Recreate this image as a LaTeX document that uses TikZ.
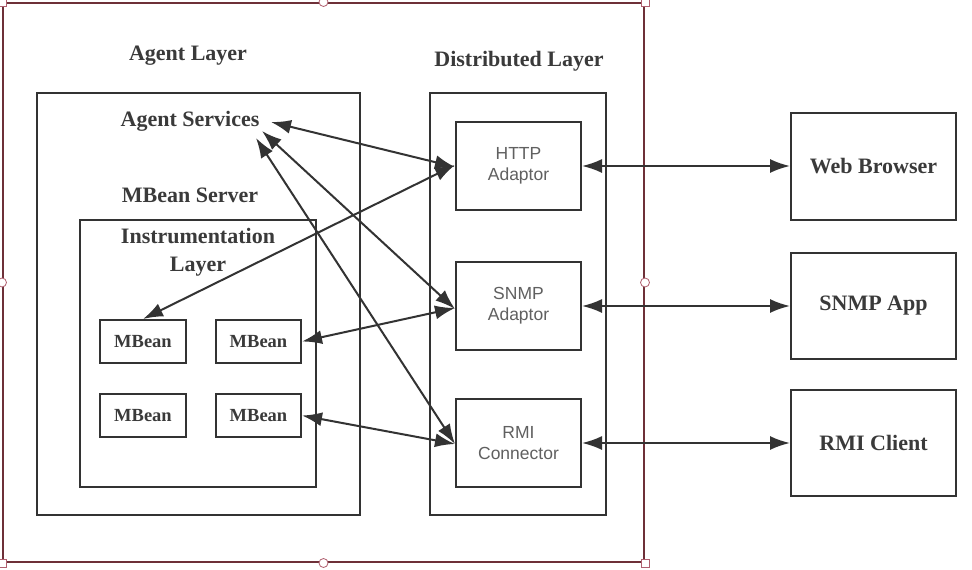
\documentclass[tikz,border=0pt]{standalone}
\usepackage{fontspec}
\setmainfont{Liberation Serif}
\newfontfamily\adsans{Liberation Sans}
\usetikzlibrary{arrows.meta}
\definecolor{ink}{HTML}{333333}
\definecolor{lbl}{HTML}{3A3A3A}
\definecolor{grey}{HTML}{606060}
\definecolor{frame}{HTML}{6E3038}
\definecolor{handle}{HTML}{B06070}
\tikzset{
  box/.style={draw=ink, line width=2pt, minimum width=#1, inner sep=0pt},
  ttl/.style={font=\fontsize{22}{26}\selectfont\bfseries, text=lbl, inner sep=0pt},
  mb/.style={draw=ink, line width=2pt, minimum width=86pt, minimum height=43pt, inner sep=0pt,
     font=\fontsize{18.5}{22}\selectfont\bfseries, text=lbl},
  adp/.style={draw=ink, line width=2pt, minimum width=125pt, minimum height=88pt, inner sep=0pt,
     align=center, font=\adsans\fontsize{17.5}{21}\selectfont, text=grey},
  ext/.style={draw=ink, line width=2pt, minimum width=165pt, minimum height=106pt, inner sep=0pt,
     font=\fontsize{22}{26}\selectfont\bfseries, text=lbl},
  conn/.style={draw=ink, line width=2pt, >={Latex[length=20pt,width=14pt]}, <->},
  hsq/.style={draw=handle, fill=white, line width=0.8pt, minimum size=8pt, inner sep=0pt},
  hci/.style={draw=handle, fill=white, line width=0.8pt, circle, minimum size=9pt, inner sep=0pt}
}
\begin{document}
\begin{tikzpicture}[x=1pt,y=-1pt]
\useasboundingbox[fill=white] (0,0) rectangle (972,570);
% outer selection frame
\node[draw=frame, line width=2pt, minimum width=641pt, minimum height=559pt, inner sep=0pt] (outer) at (323.5,282.5) {};
% containers
\node[box=323pt, minimum height=422pt] (agent) at (198.5,304) {};
\node[box=176pt, minimum height=422pt] (dist) at (518,304) {};
\node[box=236pt, minimum height=267pt] (instr) at (198,353.5) {};
% titles
\node[ttl] (agentlayer) at (188,56) {Agent Layer};
\node[ttl] (distlayer) at (519,61) {Distributed Layer};
\node[ttl] (svc) at (190,121) {Agent Services};
\node[ttl] (mbsrv) at (190,195) {MBean Server};
\node[ttl, align=center, font=\fontsize{22}{28}\selectfont\bfseries] (instrlbl) at (198,252) {Instrumentation\\Layer};
% MBeans
\node[mb] (mb1) at (143,341.5) {MBean};
\node[mb, minimum width=85pt] (mb2) at (258.5,341.5) {MBean};
\node[mb] (mb3) at (143,415.5) {MBean};
\node[mb, minimum width=85pt] (mb4) at (258.5,415.5) {MBean};
% adaptors
\node[adp] (http) at (518.5,166) {HTTP\\Adaptor};
\node[adp] (snmp) at (518.5,306) {SNMP\\Adaptor};
\node[adp] (rmi) at (518.5,443) {RMI\\Connector};
% external
\node[ext, minimum height=107pt] (web) at (873.5,166.5) {Web Browser};
\node[ext] (snmpapp) at (873.5,306) {SNMP App};
\node[ext] (rmicl) at (873.5,443) {RMI Client};
% free ends near Agent Services
\coordinate (s1) at (271,122);
\coordinate (s2) at (262,131);
\coordinate (s3) at (256,138);
% connectors
\draw[conn] (s1) -- ([yshift=-1pt]http.west);
\draw[conn] (mb1.north) -- ([yshift=1pt]http.west);
\draw[conn] (s2) -- ([yshift=-3pt]snmp.west);
\draw[conn] (s3) -- ([yshift=-1pt]rmi.west);
\draw[conn] (mb2.east) -- ([yshift=-2pt]snmp.west);
\draw[conn] (mb4.east) -- ([yshift=-1pt]rmi.west);
\draw[conn] (http.east) -- (web.west |- http.east);
\draw[conn] (snmp.east) -- (snmpapp.west |- snmp.east);
\draw[conn] (rmi.east) -- (rmicl.west |- rmi.east);
% selection handles
\node[hsq] (h1) at (outer.north west) {};
\node[hsq] (h2) at (outer.north east) {};
\node[hsq] (h3) at (outer.south west) {};
\node[hsq] (h4) at (outer.south east) {};
\node[hci] (h5) at (outer.north) {};
\node[hci] (h6) at (outer.south) {};
\node[hci] (h7) at (outer.west) {};
\node[hci] (h8) at (outer.east) {};
\end{tikzpicture}
\end{document}
